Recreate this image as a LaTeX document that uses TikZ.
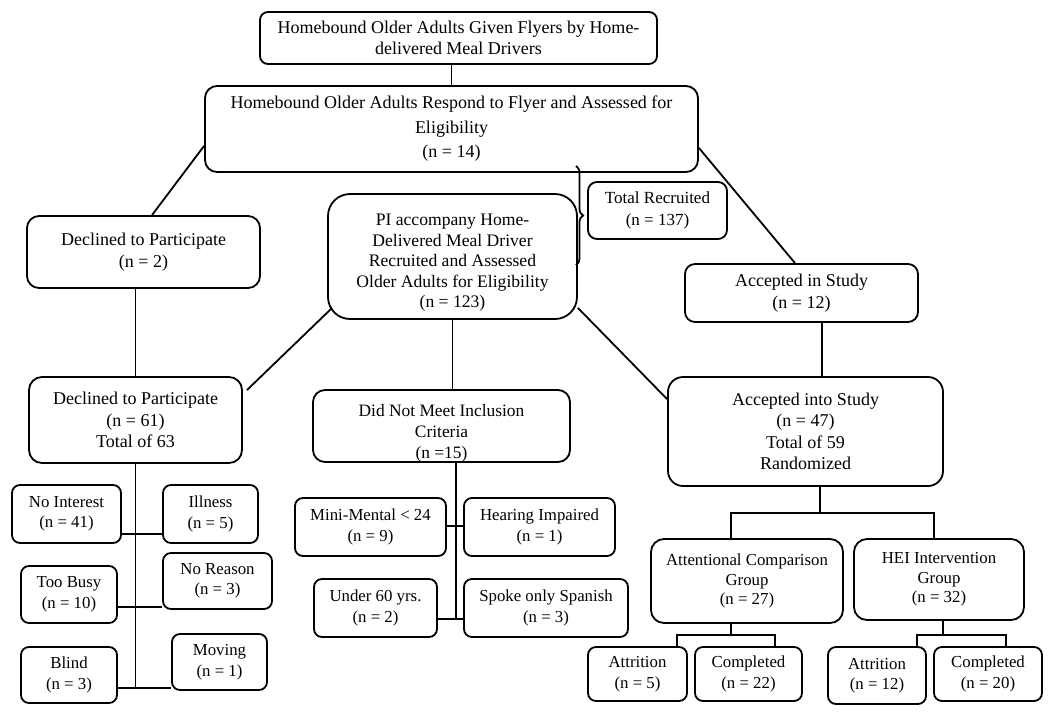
\documentclass[tikz,border=0pt]{standalone}
\usepackage{fontspec}
\setmainfont{Liberation Serif}
\usetikzlibrary{calc,decorations.pathreplacing}
\newcommand\bigf{\fontsize{18}{21.5}\selectfont}
\newcommand\smf{\fontsize{16.8}{20.5}\selectfont}
\tikzset{
  box/.style={draw, rounded corners=10pt, line width=1.8pt, align=center, inner sep=0pt, font=\bigf},
  sbox/.style={box, rounded corners=8pt, font=\smf},
  txt/.style={align=center, inner sep=0pt, font=\bigf},
  link/.style={line width=1.8pt}
}
\begin{document}
\begin{tikzpicture}[x=1pt,y=-1pt]
\useasboundingbox[fill=white] (0,0) rectangle (1050,716);
% top boxes
\node[box, rounded corners=8pt, minimum width=397pt, minimum height=52pt] (b1) at (458.5,38) {Homebound Older Adults Given Flyers by Home-\\delivered Meal Drivers};
\node[box, rounded corners=12pt, minimum width=493pt, minimum height=86pt, font=\fontsize{18}{24.5}\selectfont] (b2) at (451.5,129) {Homebound Older Adults Respond to Flyer and Assessed for\\Eligibility\\(n = 14)};
\node[box, rounded corners=12pt, minimum width=233pt, minimum height=72pt] (dec2) at (143.5,252) {Declined to Participate\\(n = 2)};
\node[box, rounded corners=22pt, minimum width=249pt, minimum height=125pt] (pi) at (452.5,256.5) {};
\node[txt, font=\fontsize{17.6}{20.5}\selectfont] (pit) at (452.5,263) {PI accompany Home-\\Delivered Meal Driver\\Recruited and Assessed\\Older Adults for Eligibility\\(n = 123)};
\node[box, rounded corners=9pt, minimum width=139pt, minimum height=57pt, font=\fontsize{17}{21.5}\selectfont] (tot) at (657.5,210.5) {Total Recruited\\(n = 137)};
\node[box, rounded corners=10pt, minimum width=233pt, minimum height=58pt] (acc12) at (801.5,293) {Accepted in Study\\(n = 12)};
% second level
\node[box, rounded corners=13pt, minimum width=213pt, minimum height=86pt] (dec61) at (135.5,420) {Declined to Participate\\(n = 61)\\Total of 63};
\node[box, rounded corners=12pt, minimum width=257pt, minimum height=72pt] (dnm) at (441.5,426) {};
\node[txt, font=\fontsize{17.4}{21}\selectfont] (dnmt) at (441.5,433) {Did Not Meet Inclusion\\Criteria\\(n =15)};
\node[box, rounded corners=15pt, minimum width=275pt, minimum height=109pt] (acc47) at (805.5,431.5) {Accepted into Study\\(n = 47)\\Total of 59\\Randomized};
% left sub-boxes
\node[sbox, minimum width=109pt, minimum height=58pt] (noint) at (66.5,514) {No Interest\\(n = 41)};
\node[sbox, minimum width=95pt, minimum height=58pt] (ill) at (210.5,514) {Illness\\(n = 5)};
\node[sbox, minimum width=96pt, minimum height=57pt] (busy) at (69,594.5) {Too Busy\\(n = 10)};
\node[sbox, minimum width=109pt, minimum height=56pt] (norsn) at (217.5,581) {No Reason\\(n = 3)};
\node[sbox, minimum width=96pt, minimum height=56pt] (blind) at (69,675) {Blind\\(n = 3)};
\node[sbox, minimum width=95pt, minimum height=56pt] (mov) at (219.5,662) {Moving\\(n = 1)};
% middle sub-boxes
\node[sbox, minimum width=151pt, minimum height=58pt] (mini) at (370.5,527) {Mini-Mental < 24\\(n = 9)};
\node[sbox, minimum width=151pt, minimum height=58pt] (hear) at (539.5,527) {Hearing Impaired\\(n = 1)};
\node[sbox, minimum width=123pt, minimum height=58pt] (u60) at (375.5,608) {Under 60 yrs.\\(n = 2)};
\node[sbox, minimum width=164pt, minimum height=58pt] (span) at (546,608) {Spoke only Spanish\\(n = 3)};
% right sub-boxes
\node[sbox, rounded corners=13pt, minimum width=192pt, minimum height=84pt, font=\fontsize{16.8}{19.5}\selectfont] (att) at (747,581) {Attentional Comparison\\Group\\(n = 27)};
\node[sbox, rounded corners=13pt, minimum width=170pt, minimum height=81pt, font=\fontsize{16.8}{19.5}\selectfont] (hei) at (939,579.5) {HEI Intervention\\Group\\(n = 32)};
\node[sbox, minimum width=99pt, minimum height=54pt] (at1) at (637.5,674) {Attrition\\(n = 5)};
\node[sbox, minimum width=107pt, minimum height=54pt] (co1) at (748.5,674) {Completed\\(n = 22)};
\node[sbox, minimum width=98pt, minimum height=57pt] (at2) at (877,675.5) {Attrition\\(n = 12)};
\node[sbox, minimum width=108pt, minimum height=54pt] (co2) at (988,674) {Completed\\(n = 20)};
% connectors
\draw[link] (b2.north |- b1.south) -- (b2.north);
\draw[link] ($(b2.south west)+(0,-27)$) -- ($(dec2.north)+(8.5,0)$);
\draw[link] ($(b2.south east)+(0,-25)$) -- ($(acc12.north)+(-6.5,0)$);
\draw[link] (dec61.north |- dec2.south) -- (dec61.north);
\draw[link] ($(pi.south west)+(5,-12)$) -- ($(dec61.north east)+(4,14)$);
\draw[link] (pi.south) -- (pi.south |- dnm.north);
\draw[link] ($(pi.south east)+(0,-12)$) -- ($(acc47.north west)+(0,23)$);
\draw[link] ($(acc12.south)+(20.5,0)$) coordinate (t12) -- (t12 |- acc47.north);
% brace
\coordinate (brT) at (576,166);
\coordinate (brB) at (576,265);
\draw[line width=1.8pt, decorate, decoration={brace, amplitude=7pt}] (brT) -- (brB);
% left tree
\draw[link] ($(noint.south east)+(0,-10)$) coordinate (j1) -- (j1 -| ill.west);
\draw[link] ($(busy.south east)+(0,-17)$) coordinate (j2) -- (j2 -| norsn.west);
\draw[link] ($(blind.south east)+(0,-16)$) coordinate (j3) -- (j3 -| mov.west);
\draw[link] (dec61.south) -- (dec61.south |- j3);
% middle tree
\draw[link] ($(mini.south east)+(0,-31)$) coordinate (j4) -- (j4 -| hear.west);
\draw[link] ($(u60.south east)+(0,-19)$) coordinate (j5) -- (j5 -| span.west);
\draw[link] ($(dnm.south)+(14.5,0)$) coordinate (td) -- (td |- j5);
% right tree
\coordinate (ja) at ($(acc47.south)+(14.5,26)$);
\draw[link] ($(acc47.south)+(14.5,0)$) -- (ja);
\draw[link] ($(att.north)+(-16,0)$) |- (ja) -| ($(hei.north)+(-5,0)$);
\coordinate (jg1) at ($(att.south)+(-16,11)$);
\draw[link] ($(att.south)+(-16,0)$) -- (jg1);
\draw[link] ($(at1.north)+(39.5,0)$) |- (jg1) -| ($(co1.north)+(26.5,0)$);
\coordinate (jg2) at ($(hei.south)+(4,14)$);
\draw[link] ($(hei.south)+(4,0)$) -- (jg2);
\draw[link] ($(at2.north)+(40,0)$) |- (jg2) -| ($(co2.north)+(18,0)$);
\end{tikzpicture}
\end{document}
